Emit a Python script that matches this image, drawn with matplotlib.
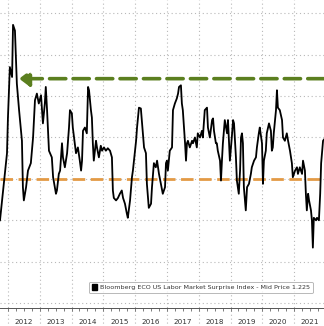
import matplotlib
matplotlib.use("Agg")
import matplotlib.pyplot as plt
import matplotlib.transforms as mtransforms
from matplotlib.patches import Patch

# ---- data ----
dates = [2011.75, 2011.97, 2012.00, 2012.06, 2012.13, 2012.16, 2012.22, 2012.25, 2012.28, 2012.35,
         2012.44, 2012.47, 2012.50, 2012.57, 2012.63, 2012.72, 2012.79, 2012.85, 2012.91, 2012.97,
         2013.04, 2013.10, 2013.16, 2013.19, 2013.23, 2013.29, 2013.38, 2013.42, 2013.51, 2013.54,
         2013.60, 2013.64, 2013.70, 2013.73, 2013.79, 2013.86, 2013.92, 2013.95, 2014.01, 2014.04,
         2014.08, 2014.14, 2014.20, 2014.26, 2014.30, 2014.33, 2014.36, 2014.42, 2014.48, 2014.52,
         2014.55, 2014.61, 2014.64, 2014.67, 2014.70, 2014.77, 2014.80, 2014.86, 2014.92, 2014.96,
         2015.02, 2015.08, 2015.14, 2015.21, 2015.27, 2015.30, 2015.33, 2015.40, 2015.46, 2015.52,
         2015.58, 2015.62, 2015.68, 2015.74, 2015.77, 2015.84, 2015.90, 2015.93, 2016.03, 2016.06,
         2016.12, 2016.18, 2016.21, 2016.28, 2016.34, 2016.37, 2016.43, 2016.50, 2016.53, 2016.59,
         2016.65, 2016.69, 2016.75, 2016.81, 2016.84, 2016.87, 2016.94, 2016.97, 2017.00, 2017.03,
         2017.09, 2017.16, 2017.19, 2017.25, 2017.31, 2017.35, 2017.38, 2017.44, 2017.47, 2017.50,
         2017.57, 2017.60, 2017.63, 2017.66, 2017.72, 2017.79, 2017.82, 2017.88, 2017.94, 2017.97,
         2018.04, 2018.10, 2018.13, 2018.19, 2018.26, 2018.29, 2018.35, 2018.42, 2018.45, 2018.48,
         2018.54, 2018.57, 2018.60, 2018.67, 2018.70, 2018.73, 2018.76, 2018.82, 2018.89, 2018.92,
         2018.98, 2019.04, 2019.08, 2019.11, 2019.17, 2019.20, 2019.26, 2019.30, 2019.33, 2019.36,
         2019.39, 2019.42, 2019.48, 2019.52, 2019.58, 2019.64, 2019.67, 2019.74, 2019.80, 2019.83,
         2019.89, 2019.92, 2019.99, 2020.02, 2020.05, 2020.11, 2020.14, 2020.21, 2020.27, 2020.30,
         2020.33, 2020.36, 2020.43, 2020.46, 2020.49, 2020.55, 2020.62, 2020.65, 2020.71, 2020.77,
         2020.81, 2020.87, 2020.93, 2020.96, 2021.03, 2021.09, 2021.12, 2021.18, 2021.25, 2021.28,
         2021.34, 2021.37, 2021.40, 2021.44, 2021.47, 2021.53, 2021.56, 2021.59, 2021.62, 2021.69,
         2021.72, 2021.78, 2021.82, 2021.85, 2021.91, 2021.94]
values = [0.25, 1.06, 1.49, 2.10, 1.98, 2.61, 2.54, 2.22, 1.90, 1.58,
          1.21, 0.65, 0.49, 0.65, 0.85, 0.94, 1.25, 1.70, 1.78, 1.66,
          1.76, 1.42, 1.66, 1.86, 1.58, 1.09, 1.01, 0.77, 0.57, 0.61,
          0.81, 0.85, 1.18, 1.01, 0.89, 1.06, 1.37, 1.58, 1.54, 1.37,
          1.25, 1.06, 1.13, 0.97, 0.85, 0.97, 1.33, 1.37, 1.30, 1.86,
          1.82, 1.58, 1.49, 1.18, 0.97, 1.21, 1.13, 1.01, 1.15, 1.09,
          1.13, 1.09, 1.12, 1.09, 1.01, 0.61, 0.52, 0.49, 0.52, 0.57,
          0.61, 0.52, 0.45, 0.33, 0.28, 0.49, 0.77, 0.85, 1.21, 1.37,
          1.61, 1.60, 1.46, 1.13, 1.06, 0.69, 0.40, 0.45, 0.65, 0.94,
          0.89, 0.97, 0.81, 0.69, 0.63, 0.57, 0.65, 0.94, 0.97, 0.85,
          1.09, 1.13, 1.58, 1.66, 1.72, 1.78, 1.86, 1.88, 1.66, 1.58,
          1.18, 0.97, 1.18, 1.21, 1.13, 1.21, 1.18, 1.25, 1.13, 1.30,
          1.25, 1.33, 1.25, 1.58, 1.61, 1.37, 1.25, 1.46, 1.48, 1.33,
          1.18, 1.18, 1.09, 0.97, 0.73, 0.97, 1.18, 1.46, 1.30, 1.46,
          0.97, 1.25, 1.46, 1.42, 1.01, 0.73, 0.57, 0.85, 1.25, 1.30,
          1.18, 0.65, 0.37, 0.65, 0.69, 0.81, 0.89, 0.97, 1.01, 1.13,
          1.30, 1.37, 1.18, 0.69, 0.97, 1.09, 1.30, 1.42, 1.33, 1.09,
          1.13, 1.30, 1.58, 1.82, 1.61, 1.58, 1.46, 1.25, 1.21, 1.30,
          1.21, 1.09, 0.94, 0.77, 0.85, 0.89, 0.81, 0.89, 0.81, 0.97,
          0.85, 0.57, 0.37, 0.57, 0.49, 0.37, 0.25, -0.08, 0.28, 0.25,
          0.28, 0.25, 0.57, 0.94, 1.21, 1.225]
years = [2012, 2013, 2014, 2015, 2016, 2017, 2018, 2019, 2020, 2021]
average_level = 0.75
high_level = 1.96
series_label = "Bloomberg ECO US Labor Market Surprise Index - Mid Price 1.225"
grid_levels = [-0.75, -0.25, 0.25, 0.75, 1.25, 1.75, 2.25, 2.75]
x_range = (2011.75, 2021.94)

fig = plt.figure(figsize=(3.24, 3.26), dpi=100)
ax = fig.add_axes([0.0, 0.055, 1.0, 0.945])

grid_kw = dict(color="#b8b8b8", linestyle=(0, (1, 2.5)), linewidth=0.8)
for g in grid_levels:
    ax.axhline(g, **grid_kw, zorder=0)
trans = mtransforms.blended_transform_factory(ax.transData, ax.transAxes)
for y in years:
    ax.plot([y, y], [-0.06, 1.0], transform=trans, clip_on=False, zorder=0, **grid_kw)

# reference lines
ax.axhline(average_level, color="#e39a45", linestyle=(0, (4.5, 2)), linewidth=2.0, zorder=2)
ax.annotate("", xy=(2012.35, high_level), xytext=(x_range[1], high_level),
            arrowprops=dict(arrowstyle="-|>,head_length=0.6,head_width=0.45", color="#5b7f1f",
                            linestyle=(0, (4.5, 2)), linewidth=2.6, shrinkA=0, shrinkB=0),
            zorder=2)

ax.plot(dates, values, color="black", linewidth=1.3, zorder=3)

# axes styling
for s in ["top", "left", "right"]:
    ax.spines[s].set_visible(False)
ax.spines["bottom"].set_color("#555555")
ax.spines["bottom"].set_linewidth(0.7)
ax.set_yticks([])
quarters = [y + q / 4 for y in range(2011, 2022) for q in range(0, 4)
            if x_range[0] < y + q / 4 < x_range[1]]
ax.set_xticks(quarters)
ax.set_xticklabels([])
ax.tick_params(axis="x", direction="out", length=2.5, width=0.6, color="#666666")
ax.set_xlim(*x_range)
ax.set_ylim(-0.81, 2.91)
for y in years:
    ax.text(y + 0.5, -0.045, str(y), transform=trans, ha="center", va="center",
            fontsize=5.2, color="#333333")

handle = Patch(facecolor="black", edgecolor="black")
leg = ax.legend([handle], [series_label], loc="lower right", bbox_to_anchor=(0.975, 0.038),
                fontsize=4.6, handlelength=0.9, handleheight=0.9, handletextpad=0.4,
                borderpad=0.45, frameon=True, fancybox=True)
leg.get_frame().set_edgecolor("#999999")
leg.get_frame().set_linewidth(0.6)
for t in leg.get_texts():
    t.set_color("#333333")

fig.savefig("out.png", dpi=100)
